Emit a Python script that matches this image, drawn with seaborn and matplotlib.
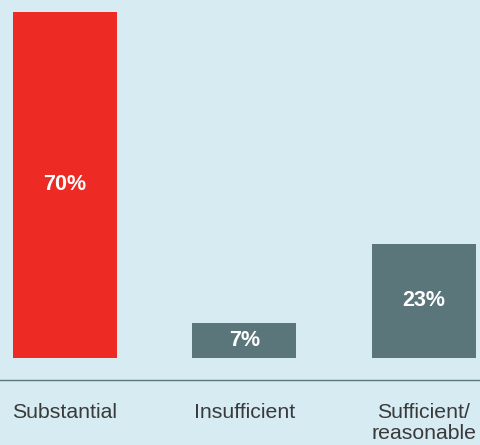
import matplotlib
matplotlib.use("Agg")
import matplotlib.pyplot as plt
import seaborn as sns
import pandas as pd

categories = ["Substantial", "Insufficient", "Sufficient/\nreasonable"]
shares = [70, 7, 23]
bar_colors = ["#ee2a24", "#5a767b", "#5a767b"]

bg = "#d6ebf2"
text_color = "#3a3a3a"

sns.set_theme(style="white")
plt.rcParams["font.family"] = ["Liberation Sans", "DejaVu Sans"]

df = pd.DataFrame({"category": categories, "share": shares})

fig = plt.figure(figsize=(4.81, 4.45), dpi=100, facecolor=bg)
ax = fig.add_axes([0, 0.1454, 1, 0.8546])
ax.set_facecolor(bg)

sns.barplot(data=df, x="category", y="share", hue="category",
            palette=dict(zip(categories, bar_colors)), width=0.58,
            legend=False, ax=ax, saturation=1, linewidth=0, edgecolor="none")

for i, v in enumerate(shares):
    ax.text(i, v / 2, f"{v}%", ha="center", va="center", color="white",
            fontsize=15.5, fontweight="bold")

ax.set_xlim(-0.362, 2.318)
ax.set_ylim(-4.58, 72.43)
ax.set_xlabel("")
ax.set_ylabel("")
ax.set_yticks([])
for s in ["top", "left", "right"]:
    ax.spines[s].set_visible(False)
ax.spines["bottom"].set_color("#5a767b")
ax.spines["bottom"].set_linewidth(1.0)
ax.tick_params(axis="x", length=0, pad=16, labelsize=15.3, labelcolor=text_color)
for lbl in ax.get_xticklabels():
    lbl.set_linespacing(1.15)

fig.savefig("out.png", dpi=100, facecolor=bg)
